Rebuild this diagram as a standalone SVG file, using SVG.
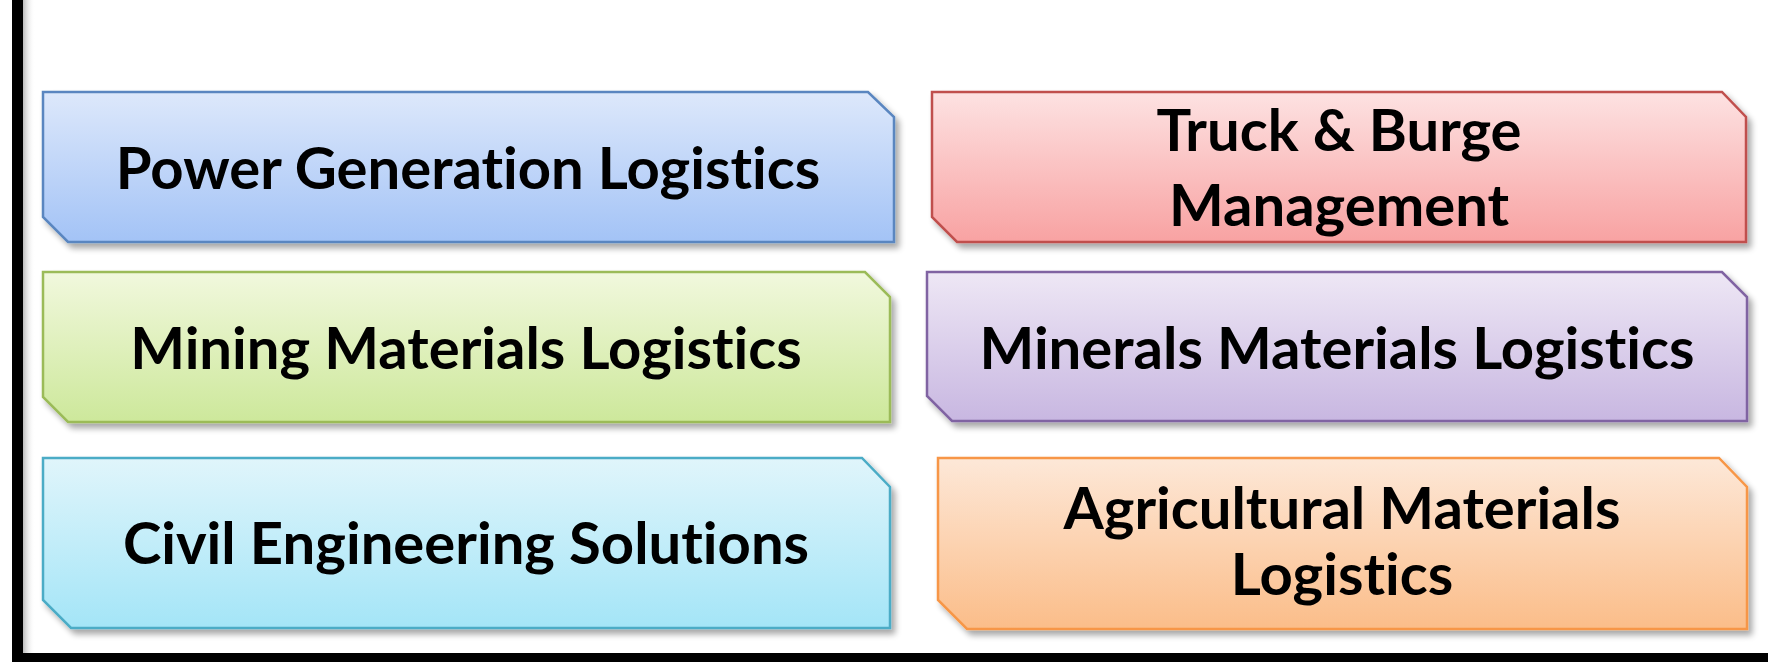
<svg xmlns="http://www.w3.org/2000/svg" width="1768" height="662" viewBox="0 0 1768 662">
<defs>
<linearGradient id="gBlue" x1="0" y1="0" x2="0" y2="1"><stop offset="0" stop-color="#dde8fb"/><stop offset="1" stop-color="#a3c3f6"/></linearGradient>
<linearGradient id="gRed" x1="0" y1="0" x2="0" y2="1"><stop offset="0" stop-color="#fde2e2"/><stop offset="1" stop-color="#f8a2a2"/></linearGradient>
<linearGradient id="gGreen" x1="0" y1="0" x2="0" y2="1"><stop offset="0" stop-color="#f1f8dd"/><stop offset="1" stop-color="#cde89b"/></linearGradient>
<linearGradient id="gPurple" x1="0" y1="0" x2="0" y2="1"><stop offset="0" stop-color="#eee7f5"/><stop offset="1" stop-color="#c8b7e1"/></linearGradient>
<linearGradient id="gCyan" x1="0" y1="0" x2="0" y2="1"><stop offset="0" stop-color="#e0f5fb"/><stop offset="1" stop-color="#a4e5f7"/></linearGradient>
<linearGradient id="gOrange" x1="0" y1="0" x2="0" y2="1"><stop offset="0" stop-color="#fde8d8"/><stop offset="1" stop-color="#fbbd89"/></linearGradient>
<linearGradient id="lineShade" x1="0" y1="0" x2="1" y2="0"><stop offset="0" stop-color="#bbbbbb"/><stop offset="1" stop-color="#ffffff" stop-opacity="0"/></linearGradient>
<filter id="shadow" x="-5%" y="-10%" width="110%" height="125%">
<feGaussianBlur in="SourceAlpha" stdDeviation="3"/>
<feOffset dx="4" dy="5" result="b"/>
<feComponentTransfer><feFuncA type="linear" slope="0.35"/></feComponentTransfer>
<feMerge><feMergeNode/><feMergeNode in="SourceGraphic"/></feMerge>
</filter>
</defs>
<style>
.box{stroke-width:2.5;filter:url(#shadow)}
.lbl{font-family:Lato,"Open Sans","Liberation Sans",sans-serif;font-weight:bold;font-size:58px;fill:#000;text-anchor:middle;font-variant-ligatures:none;font-feature-settings:"liga" 0}
</style>
<rect width="1768" height="662" fill="#ffffff"/>
<g id="frame">
<rect x="23" y="0" width="12" height="653" fill="url(#lineShade)"/>
<rect x="12" y="0" width="11" height="662" fill="#000"/>
<rect x="12" y="653" width="1756" height="9" fill="#000"/>
</g>
<g id="connectors"></g>
<g id="n1">
<path class="box" d="M43,92 H868 L894,117 V242 H68 L43,217 Z" fill="url(#gBlue)" stroke="#5a86c0"/>
<text class="lbl" x="468" y="189">Power Generation Logistics</text>
</g>
<g id="n2">
<path class="box" d="M932,92 H1722 L1746,117 V242 H957 L932,217 Z" fill="url(#gRed)" stroke="#c0504d"/>
<text class="lbl" x="1339" y="151">Truck &amp; Burge</text>
<text class="lbl" x="1339" y="226">Management</text>
</g>
<g id="n3">
<path class="box" d="M43,272 H865 L890,297 V422 H68 L43,397 Z" fill="url(#gGreen)" stroke="#9bbb59"/>
<text class="lbl" x="466" y="369">Mining Materials Logistics</text>
</g>
<g id="n4">
<path class="box" d="M927,272 H1722 L1747,297 V421 H952 L927,396 Z" fill="url(#gPurple)" stroke="#8064a2"/>
<text class="lbl" x="1337" y="369">Minerals Materials Logistics</text>
</g>
<g id="n5">
<path class="box" d="M43,458 H862 L890,487 V628 H71 L43,600 Z" fill="url(#gCyan)" stroke="#4bacc6"/>
<text class="lbl" x="466" y="564">Civil Engineering Solutions</text>
</g>
<g id="n6">
<path class="box" d="M938,458 H1719 L1747,487 V629 H967 L938,600 Z" fill="url(#gOrange)" stroke="#f79646"/>
<text class="lbl" x="1342" y="529">Agricultural Materials</text>
<text class="lbl" x="1342" y="595">Logistics</text>
</g>
</svg>
